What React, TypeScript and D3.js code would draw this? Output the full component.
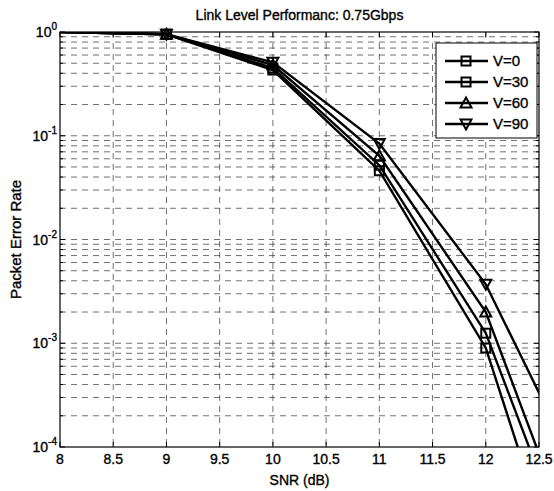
import React from "react";
import * as d3 from "d3";

// SNR points (dB) and packet error rate per speed
const snr = [8, 9, 10, 11, 12, 13];
const perV0 = [1, 0.95, 0.43, 0.046, 9.0e-4, 6e-7];
const perV30 = [1, 0.95, 0.45, 0.052, 1.25e-3, 2.5e-6];
const perV60 = [1, 0.95, 0.48, 0.064, 2.0e-3, 3.7e-6];
const perV90 = [1, 0.95, 0.51, 0.084, 3.7e-3, 3e-5];

const seriesNames = ["V=0", "V=30", "V=60", "V=90"];
const seriesMarkers = ["square", "square", "triUp", "triDown"];
const xTicks = [8, 8.5, 9, 9.5, 10, 10.5, 11, 11.5, 12, 12.5];
const yDecades = [0, -1, -2, -3, -4];

const W = 554, H = 491;
const L = 60, R = 539, T = 32, B = 447;
const font = "'Liberation Sans', Arial, sans-serif";

function Marker({ kind, x, y }: { kind: string; x: number; y: number }) {
  const s = 4.5;
  if (kind === "square")
    return <rect x={x - s} y={y - s} width={2 * s} height={2 * s} fill="none" stroke="#000" strokeWidth={2} />;
  if (kind === "triUp")
    return <path d={`M${x},${y - s - 1}L${x + s + 1},${y + s}L${x - s - 1},${y + s}Z`} fill="none" stroke="#000" strokeWidth={2} />;
  return <path d={`M${x},${y + s + 1}L${x + s + 1},${y - s}L${x - s - 1},${y - s}Z`} fill="none" stroke="#000" strokeWidth={2} />;
}

export default function App() {
  const x = d3.scaleLinear().domain([8, 12.5]).range([L, R]);
  const y = d3.scaleLog().domain([1e-4, 1]).range([B, T]);
  const series = [perV0, perV30, perV60, perV90];

  const line = d3.line<number>()
    .x((_, i) => x(snr[i]))
    .y((d) => y(d));

  // minor log grid values 2..9 x 10^k
  const minor: number[] = [];
  for (let k = -4; k < 0; k++) for (let m = 2; m <= 9; m++) minor.push(m * Math.pow(10, k));

  const dash = "6,5";

  return (
    <svg width={W} height={H} style={{ position: "absolute", left: 0, top: 0, background: "#fff" }} fontFamily={font}>
      <defs>
        <clipPath id="plot"><rect x={L} y={T} width={R - L} height={B - T} /></clipPath>
      </defs>
      <rect x={0} y={0} width={W} height={H} fill="#fff" />

      {/* grid */}
      <g stroke="#333" strokeWidth={0.7} strokeDasharray={dash}>
        {xTicks.slice(1, -1).map((t) => (
          <line key={"gx" + t} x1={x(t)} x2={x(t)} y1={T} y2={B} />
        ))}
        {yDecades.slice(1, -1).map((k) => (
          <line key={"gy" + k} x1={L} x2={R} y1={y(Math.pow(10, k))} y2={y(Math.pow(10, k))} />
        ))}
        {minor.map((v) => (
          <line key={"gm" + v} x1={L} x2={R} y1={y(v)} y2={y(v)} />
        ))}
      </g>

      {/* ticks */}
      <g stroke="#000" strokeWidth={1}>
        {xTicks.map((t) => (
          <g key={"tx" + t}>
            <line x1={x(t)} x2={x(t)} y1={B} y2={B - 5} />
            <line x1={x(t)} x2={x(t)} y1={T} y2={T + 5} />
          </g>
        ))}
        {yDecades.map((k) => (
          <g key={"ty" + k}>
            <line x1={L} x2={L + 5} y1={y(Math.pow(10, k))} y2={y(Math.pow(10, k))} />
            <line x1={R} x2={R - 5} y1={y(Math.pow(10, k))} y2={y(Math.pow(10, k))} />
          </g>
        ))}
        {minor.map((v) => (
          <g key={"tm" + v}>
            <line x1={L} x2={L + 3} y1={y(v)} y2={y(v)} />
            <line x1={R} x2={R - 3} y1={y(v)} y2={y(v)} />
          </g>
        ))}
      </g>

      {/* data */}
      <g clipPath="url(#plot)">
        {series.map((s, i) => (
          <path key={"l" + i} d={line(s) || ""} fill="none" stroke="#000" strokeWidth={2.4} />
        ))}
      </g>
      {series.map((s, i) => (
        <g key={"m" + i}>
          {s.map((v, j) =>
            snr[j] > 8 && snr[j] <= 12.5 && v >= 1e-4 ? (
              <Marker key={j} kind={seriesMarkers[i]} x={x(snr[j])} y={y(v)} />
            ) : null
          )}
        </g>
      ))}

      {/* axes box */}
      <rect x={L} y={T} width={R - L} height={B - T} fill="none" stroke="#000" strokeWidth={1.2} />

      <g stroke="#000" strokeWidth={0.35}>
        {/* tick labels */}
        {xTicks.map((t) => (
          <text key={"lx" + t} x={x(t)} y={464} textAnchor="middle" fontSize={14}>{t}</text>
        ))}
        {yDecades.map((k) => (
          <text key={"ly" + k} x={57} y={y(Math.pow(10, k)) + 5} textAnchor="end" fontSize={14}>
            10<tspan dy={-7} fontSize={10}>{k}</tspan>
          </text>
        ))}

        {/* titles */}
        <text x={(L + R) / 2} y={20} textAnchor="middle" fontSize={14}>Link Level Performanc: 0.75Gbps</text>
        <text x={(L + R) / 2} y={485} textAnchor="middle" fontSize={14}>SNR (dB)</text>
        <text transform={`translate(21,${(T + B) / 2}) rotate(-90)`} textAnchor="middle" fontSize={15}>Packet Error Rate</text>
      </g>

      {/* legend */}
      <g>
        <rect x={436} y={43} width={101} height={95} fill="#fff" stroke="#000" strokeWidth={1} />
        {seriesNames.map((n, i) => {
          const ly = 61 + i * 21;
          return (
            <g key={"lg" + i}>
              <line x1={445} x2={488} y1={ly} y2={ly} stroke="#000" strokeWidth={2.4} />
              <Marker kind={seriesMarkers[i]} x={466} y={ly} />
              <text x={493} y={ly + 5} fontSize={15} stroke="#000" strokeWidth={0.35}>{n}</text>
            </g>
          );
        })}
      </g>
    </svg>
  );
}
